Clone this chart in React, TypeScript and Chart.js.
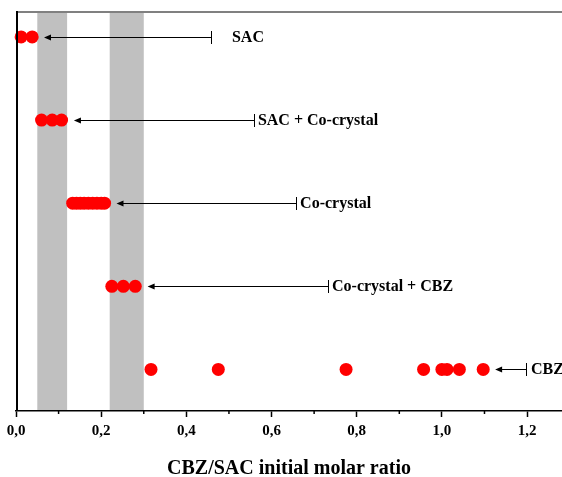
import React, { useEffect, useRef } from "react";
import { Chart, registerables } from "chart.js";

Chart.register(...registerables);

// Phase categories (row order, bottom to top)
const categories = ["CBZ", "Co-crystal + CBZ", "Co-crystal", "SAC + Co-crystal", "SAC"];
const rowValues = [1, 2, 3, 4, 5];

// CBZ/SAC initial molar ratios for each outcome
const cbzRatios = [0.317, 0.475, 0.775, 0.957, 1.0, 1.012, 1.041, 1.097];
const cocrystalCbzRatios = [0.225, 0.252, 0.28];
const cocrystalRatios = [0.133, 0.142, 0.151, 0.16, 0.17, 0.18, 0.19, 0.2, 0.208];
const sacCocrystalRatios = [0.06, 0.085, 0.107];
const sacRatios = [0.012, 0.038];

const seriesByRow = [cbzRatios, cocrystalCbzRatios, cocrystalRatios, sacCocrystalRatios, sacRatios];

// Shaded ranges (x)
const bandStarts = [0.05, 0.22];
const bandEnds = [0.12, 0.3];

// Annotation arrows (x in ratio units), same order as categories
const arrowTips = [1.125, 0.309, 0.236, 0.136, 0.0657];
const arrowTails = [1.197, 0.733, 0.657, 0.559, 0.458];
const labelXs = [1.209, 0.742, 0.667, 0.568, 0.507];

// Axis ticks
const tickValues = [0, 0.1, 0.2, 0.3, 0.4, 0.5, 0.6, 0.7, 0.8, 0.9, 1.0, 1.1, 1.2];

const FONT = "'Liberation Serif', 'Times New Roman', serif";

const decorPlugin = {
  id: "decor",
  beforeDatasetsDraw(chart: any) {
    const { ctx, chartArea, scales } = chart;
    const x = scales.x;
    ctx.save();
    ctx.fillStyle = "#c0c0c0";
    for (let i = 0; i < bandStarts.length; i++) {
      const x0 = x.getPixelForValue(bandStarts[i]);
      const x1 = x.getPixelForValue(bandEnds[i]);
      ctx.fillRect(x0, chartArea.top, x1 - x0, chartArea.bottom - chartArea.top - 1);
    }
    ctx.restore();
  },
  afterDatasetsDraw(chart: any) {
    const { ctx, chartArea, scales } = chart;
    const x = scales.x;
    const y = scales.y;
    ctx.save();
    // arrows
    ctx.strokeStyle = "#000";
    ctx.fillStyle = "#000";
    ctx.lineWidth = 1;
    for (let i = 0; i < categories.length; i++) {
      const py = Math.round(y.getPixelForValue(rowValues[i])) + 0.5;
      const tip = x.getPixelForValue(arrowTips[i]);
      const tail = Math.round(x.getPixelForValue(arrowTails[i])) + 0.5;
      ctx.beginPath();
      ctx.moveTo(tip + 6, py);
      ctx.lineTo(tail, py);
      ctx.stroke();
      ctx.beginPath();
      ctx.moveTo(tail, py - 6.5);
      ctx.lineTo(tail, py + 6.5);
      ctx.stroke();
      ctx.beginPath();
      ctx.moveTo(tip, py);
      ctx.lineTo(tip + 7, py - 3);
      ctx.lineTo(tip + 7, py + 3);
      ctx.closePath();
      ctx.fill();
      ctx.font = `bold 16px ${FONT}`;
      ctx.textAlign = "left";
      ctx.textBaseline = "middle";
      ctx.fillText(categories[i], x.getPixelForValue(labelXs[i]), py);
    }
    // top frame line
    ctx.strokeStyle = "#808080";
    ctx.lineWidth = 2;
    ctx.beginPath();
    ctx.moveTo(chartArea.left, chartArea.top);
    ctx.lineTo(chart.width, chartArea.top);
    ctx.stroke();
    // left axis
    ctx.strokeStyle = "#000";
    ctx.lineWidth = 2;
    ctx.beginPath();
    ctx.moveTo(chartArea.left + 1, chartArea.top - 1);
    ctx.lineTo(chartArea.left + 1, chartArea.bottom);
    ctx.stroke();
    // minor ticks
    ctx.lineWidth = 1.5;
    for (let i = 1; i < tickValues.length; i += 2) {
      const px = x.getPixelForValue(tickValues[i]);
      ctx.beginPath();
      ctx.moveTo(px, chartArea.bottom);
      ctx.lineTo(px, chartArea.bottom + 3);
      ctx.stroke();
    }
    ctx.restore();
  },
};

export default function App() {
  const ref = useRef<HTMLCanvasElement | null>(null);
  useEffect(() => {
    if (!ref.current) return;
    const chart = new Chart(ref.current, {
      type: "scatter",
      data: {
        datasets: seriesByRow.map((vals, i) => ({
          label: categories[i],
          data: vals.map((v) => ({ x: v, y: rowValues[i] })),
          backgroundColor: "#ff0000",
          borderWidth: 0,
          pointRadius: 6.5,
          clip: false,
        })),
      },
      options: {
        animation: false,
        responsive: true,
        maintainAspectRatio: false,
        layout: { autoPadding: false, padding: { left: 16, top: 12, right: 0, bottom: 0 } },
        plugins: { legend: { display: false }, tooltip: { enabled: false } },
        scales: {
          x: {
            type: "linear",
            min: 0,
            max: 1.282,
            afterBuildTicks: (scale: any) => {
              scale.ticks = tickValues.map((v) => ({ value: v }));
            },
            afterFit: (scale: any) => {
              scale.paddingLeft = 0;
              scale.paddingRight = 0;
            },
            grid: {
              display: true,
              drawOnChartArea: false,
              drawTicks: true,
              tickLength: 6,
              tickWidth: 1.5,
              tickColor: (c: any) => (c.index % 2 === 0 ? "#000" : "rgba(0,0,0,0)"),
            },
            border: { display: true, color: "#000", width: 1.5 },
            ticks: {
              autoSkip: false,
              maxRotation: 0,
              padding: 5,
              color: "#000",
              font: { family: FONT, size: 15, weight: "bold", lineHeight: 1.2 },
              callback: (value: any, index: number) =>
                index % 2 === 0 ? Number(value).toFixed(1).replace(".", ",") : "",
            },
            title: {
              display: true,
              text: "CBZ/SAC initial molar ratio",
              color: "#000",
              font: { family: FONT, size: 20, weight: "bold", lineHeight: 0.8 },
              padding: { top: 16, bottom: 0 },
            },
          },
          y: {
            type: "linear",
            min: 0.5,
            max: 5.3,
            display: false,
          },
        },
      },
      plugins: [decorPlugin],
    } as any);
    return () => chart.destroy();
  }, []);
  return (
    <div style={{ position: "fixed", left: 0, top: 0, width: 562, height: 477, background: "#fff" }}>
      <canvas ref={ref} />
    </div>
  );
}
